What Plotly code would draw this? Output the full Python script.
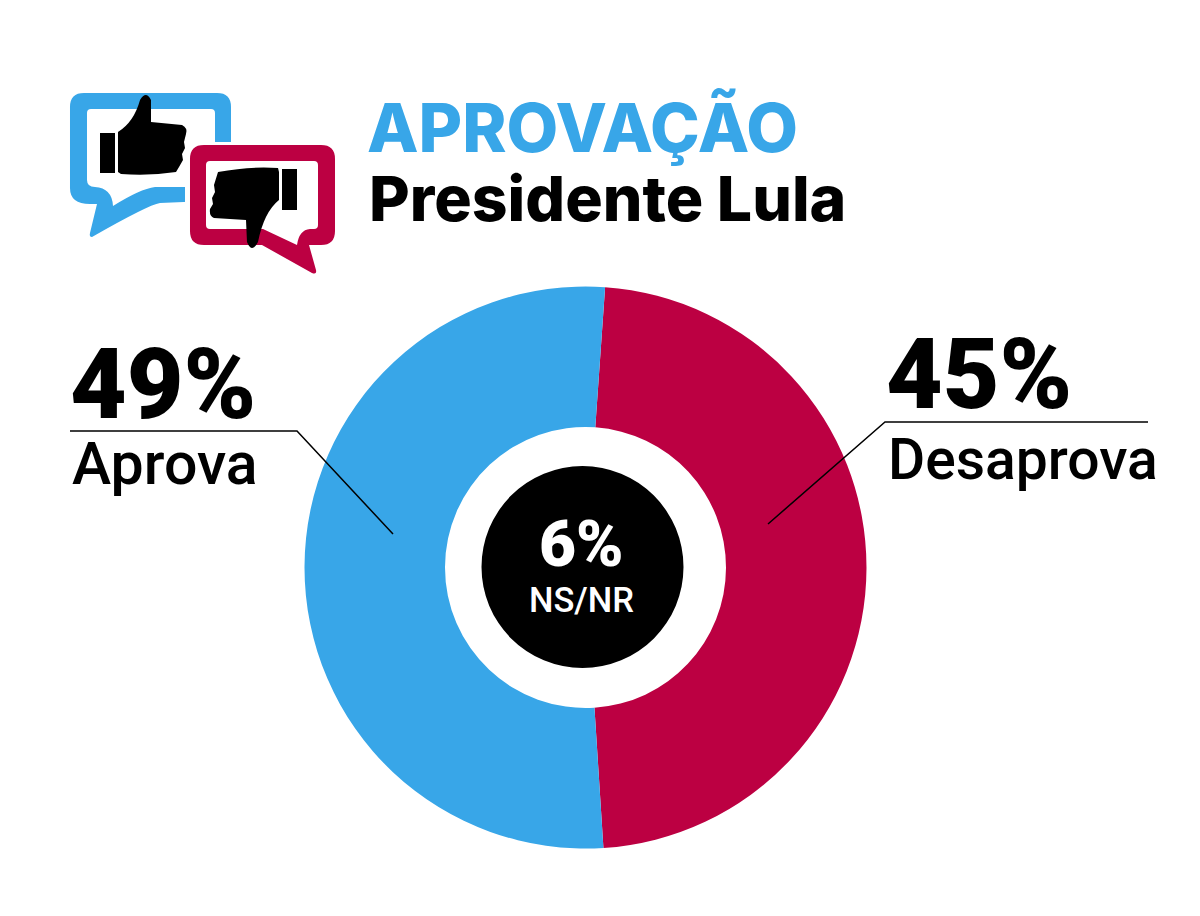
import plotly.graph_objects as go

W = 1200
H = 916

# values
ring_labels = ["Desaprova", "Aprova"]
ring_values = [45, 49]
ring_colors = ["#BC0042", "#38A6E8"]
center_label = "NS/NR"
center_value = [6]
title_top = "APROVAÇÃO"
title_bottom = "Presidente Lula"

FONT = "Roboto"
BLUE = "#38A6E8"
RED = "#BC0042"


def fx(x):
    return x / W


def fy(y):
    return 1 - y / H


def domain(cx, cy, r):
    return dict(x=[fx(cx - r), fx(cx + r)], y=[fy(cy + r), fy(cy - r)])


def path(cmds):
    """cmds in picture pixels: (letter, x, y, x, y...)"""
    out = []
    for c in cmds:
        nums = c[1:]
        pts = []
        for i in range(0, len(nums), 2):
            pts.append(f"{fx(nums[i]):.5f},{fy(nums[i + 1]):.5f}")
        out.append(c[0] + " ".join(pts))
    return " ".join(out) + " Z"


def poly(pts):
    return path([("M", *pts[0])] + [("L", *p) for p in pts[1:]])


def filled(d, color):
    return dict(type="path", xref="paper", yref="paper", path=d, fillcolor=color,
                line=dict(width=0), layer="above")


def leader(pts):
    d = "M" + " L".join(f"{fx(x):.5f},{fy(y):.5f}" for x, y in pts)
    return dict(type="path", xref="paper", yref="paper", path=d,
                line=dict(color="#000000", width=1.5), layer="above")


def label(text, x, y, size, color="#000000", weight=400, anchor="left", family=FONT):
    return dict(text=text, x=fx(x), y=fy(y), xref="paper", yref="paper", xanchor=anchor,
                yanchor="middle", showarrow=False,
                font=dict(family=family, size=size, color=color, weight=weight))


blue_outer = path([
    ("M", 70, 107), ("Q", 70, 93, 84, 93), ("L", 217, 93), ("Q", 231, 93, 231, 107),
    ("L", 231, 200), ("L", 160, 203), ("Q", 148, 205, 92, 237), ("Q", 89, 237, 90, 233), ("L", 97, 204),
    ("L", 90, 204), ("Q", 70, 204, 70, 188),
])
blue_inner = path([
    ("M", 87, 113), ("Q", 87, 109, 91, 109), ("L", 211, 109), ("Q", 215, 109, 215, 113),
    ("L", 215, 187), ("L", 155, 187), ("Q", 140, 189, 113, 206), ("Q", 112, 188, 95, 187),
    ("Q", 87, 187, 87, 180),
])
red_outer = path([
    ("M", 190, 159), ("Q", 190, 145, 204, 145), ("L", 321, 145), ("Q", 335, 145, 335, 159),
    ("L", 335, 231), ("Q", 335, 245, 321, 245), ("L", 309, 245), ("L", 316, 270),
    ("Q", 317, 275, 312, 273), ("L", 262, 245), ("L", 204, 245), ("Q", 190, 245, 190, 231),
])
red_inner = path([
    ("M", 206, 165), ("Q", 206, 161, 210, 161), ("L", 314, 161), ("Q", 318, 161, 318, 165),
    ("L", 318, 225), ("Q", 318, 229, 314, 229), ("L", 310, 229), ("Q", 299, 230, 297, 245),
    ("L", 263, 229), ("L", 210, 229), ("Q", 206, 229, 206, 225),
])
thumb_up = path([
    ("M", 118, 132), ("Q", 134, 122, 140, 100), ("Q", 146, 90, 151, 100), ("L", 151, 122),
    ("L", 182, 125), ("Q", 188, 128, 186, 134), ("L", 184, 142), ("L", 185, 148), ("L", 182, 154),
    ("L", 183, 160), ("L", 179, 167), ("L", 176, 172), ("Q", 150, 176, 121, 174), ("L", 118, 172),
])
thumb_up_cuff = poly([(100, 133), (115, 133), (115, 173), (100, 173)])
thumb_down = path([
    ("M", 218, 172), ("Q", 250, 166, 278, 168), ("L", 279, 172), ("L", 279, 200),
    ("Q", 264, 212, 258, 242), ("Q", 252, 254, 247, 242), ("L", 246, 220), ("L", 214, 218),
    ("Q", 209, 216, 210, 209), ("L", 213, 204), ("L", 212, 198), ("L", 215, 192), ("L", 214, 185),
])
thumb_down_cuff = poly([(282, 169), (297, 169), (297, 210), (282, 210)])
gap = poly([(185, 142), (240, 142), (240, 215), (185, 215)])

fig = go.Figure()

# ring, first slice starts just right of 12 o'clock
fig.add_trace(go.Pie(labels=ring_labels, values=ring_values, hole=0.5, sort=False, direction="clockwise",
                     rotation=4, marker=dict(colors=ring_colors, line=dict(width=0)),
                     textinfo="none", hoverinfo="label+value", showlegend=False,
                     domain=domain(585.5, 567.5, 281)))
# black disc in the hole
fig.add_trace(go.Pie(labels=[center_label], values=center_value, sort=False,
                     marker=dict(colors=["#000000"], line=dict(width=0)),
                     textinfo="none", hoverinfo="label+value", showlegend=False,
                     domain=domain(582.5, 567, 101)))

shapes = [
    filled(blue_outer, BLUE), filled(blue_inner, "#FFFFFF"), filled(gap, "#FFFFFF"),
    filled(thumb_up, "#000000"), filled(thumb_up_cuff, "#000000"),
    filled(red_outer, RED), filled(red_inner, "#FFFFFF"),
    filled(thumb_down, "#000000"), filled(thumb_down_cuff, "#000000"),
    leader([(70, 431), (297, 431), (393, 534)]),
    leader([(1148, 422), (885, 422), (768, 524)]),
]

annotations = [
    label(title_top, 365, 127, 67, BLUE, 800, family="Inter"),
    label(title_bottom, 367, 198, 62.5, "#000000", 800, family="Inter"),
    label(f"{ring_values[1]}%", 68, 384, 98, "#000000", 900),
    label(ring_labels[1], 70, 464, 59, "#000000", 500),
    label(f"{ring_values[0]}%", 884, 374, 98, "#000000", 900),
    label(ring_labels[0], 886, 460, 57, "#000000", 500),
    label(f"{center_value[0]}%", 581, 544, 64, "#FFFFFF", 900, "center"),
    label(center_label, 581.5, 600, 34.5, "#FFFFFF", 500, "center"),
]
# the big figure's line box reaches into the word below it
annotations[2]["height"] = 84

fig.update_layout(width=W, height=H, margin=dict(l=0, r=0, t=0, b=0), paper_bgcolor="#FFFFFF",
                  plot_bgcolor="#FFFFFF", shapes=shapes, annotations=annotations)

fig.write_html("out.html", config=dict(displayModeBar=False),
               post_script="document.body.style.margin='0';document.body.style.overflow='hidden';")
